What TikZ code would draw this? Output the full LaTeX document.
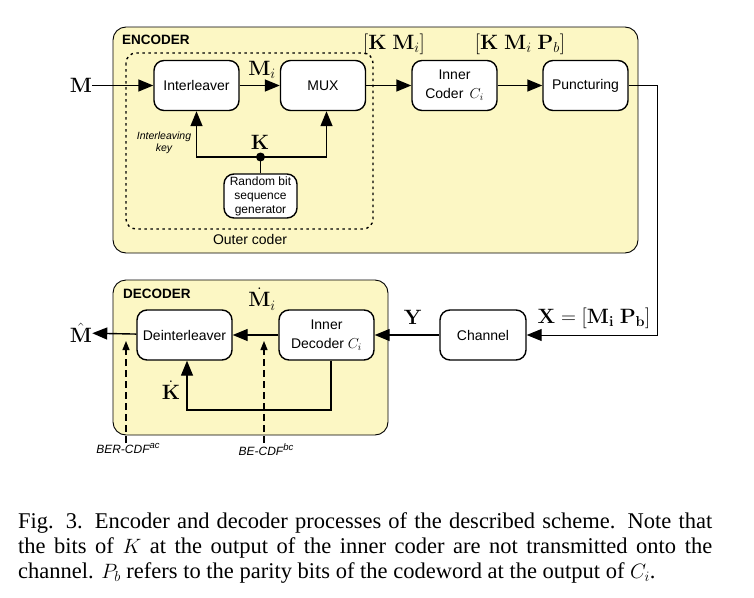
\documentclass[tikz,border=0pt]{standalone}
\usepackage{amssymb,amsmath}
\usepackage[no-math]{fontspec}
\setmainfont{Liberation Serif}
\setsansfont{Liberation Sans}
\usepackage{tikz}
\usetikzlibrary{arrows.meta}
\usetikzlibrary{calc}
\usetikzlibrary{positioning}
\definecolor{panel_yellow}{RGB}{252,247,196}
\newcommand{\upidx}[1]{\raisebox{5pt}{\fontsize{9.5}{10}\selectfont #1}}

\begin{document}
\begin{tikzpicture}[x=1pt,y=-1pt,
	block_node/.style={draw,line width=1.4pt,rounded corners=10pt,fill=white,minimum width=85pt,minimum height=50pt,inner sep=2pt,align=center,font=\sffamily\fontsize{14}{19}\selectfont},
	math_label/.style={font=\fontsize{21.5}{23}\selectfont,inner sep=0pt},
	title_label/.style={anchor=base west,font=\sffamily\bfseries\fontsize{13.5}{16}\selectfont,inner sep=0pt},
	note_label/.style={align=center,inner sep=0pt,font=\sffamily\itshape\fontsize{12}{14}\selectfont},
	sig/.style={line width=1.4pt,-{Triangle[length=15pt,width=12pt]}},
	probe/.style={line width=1.2pt,dash pattern=on 7pt off 4pt,-{Triangle[length=9pt,width=7pt]}}]
	
	\useasboundingbox (0,0) rectangle (754,597);
	
	% panels
	\draw[line width=0.9pt,rounded corners=13pt,fill=panel_yellow] (113,27) rectangle (638,253);
	\draw[line width=0.9pt,rounded corners=13pt,fill=panel_yellow] (113,280) rectangle (388,435);
	\node[title_label] (enc) at (122,44) {ENCODER};
	\node[title_label] (dec) at (123,298) {DECODER};
	
	% outer coder
	\draw[line width=1.4pt,dash pattern=on 2.5pt off 3.5pt,rounded corners=10pt] (126,53) rectangle (373,229);
	\node[font=\sffamily\fontsize{14}{16}\selectfont] (outer) at (250,239) {Outer coder};
	
	% encoder blocks
	\node[block_node] (intl) at (196.5,85.5) {Interleaver};
	\node[block_node] (mux) at (323,85.5) {MUX};
	\node[block_node] (inner) at (454.5,85.5) {Inner\\Coder \,$C_i$};
	\node[block_node] (punct) at (585.5,85.5) {Puncturing};
	\node[block_node,minimum width=73pt,minimum height=44pt,font=\sffamily\fontsize{12}{14}\selectfont] (rbsg) at (260.5,196) {Random bit\\sequence\\generator};
	
	\node[math_label] (msg) at (81,85.5) {$\mathbf{M}$};
	\node[math_label] (mi) at (262,70) {$\mathbf{M}_i$};
	\node[math_label] (kmi) at (394,44) {$[\mathbf{K}\;\mathbf{M}_i]$};
	\node[math_label] (kmipb) at (520,44) {$[\mathbf{K}\;\mathbf{M}_i\;\mathbf{P}_b]$};
	\node[math_label] (klbl) at (260,142) {$\mathbf{K}$};
	\node[note_label,font=\sffamily\itshape\fontsize{10.5}{12}\selectfont] (ikey) at (164,143) {Interleaving\\key};
	
	\path[sig]
	(msg) edge (intl)
	(intl) edge (mux)
	(mux) edge (inner)
	(inner) edge (punct);
	
	\coordinate (kjoin) at (260.5,157);
	\draw[line width=1.4pt] (rbsg) -- (kjoin);
	\draw[sig] (kjoin) -| (intl.south);
	\draw[sig] (kjoin) -| ([xshift=3.5pt]mux.south);
	\fill (kjoin) circle (4.5pt);
	
	% channel
	\node[block_node,minimum width=86pt] (chan) at (483,335) {Channel};
	\node[math_label] (xlbl) at (594,318) {$\mathbf{X}=[\mathbf{M_i}\;\mathbf{P_b}]$};
	\draw[line width=1pt,-{Triangle[length=15pt,width=12pt]}] (punct.east) -- ++(28.5,0) |- (chan.east);
	
	% decoder blocks
	\node[block_node,minimum width=95pt] (indec) at (326.5,335) {Inner\\Decoder $C_i$};
	\node[block_node,minimum width=95pt] (deint) at (184.5,335) {Deinterleaver};
	\node[math_label] (mhat) at (81,333) {$\hat{\mathbf{M}}$};
	\node[math_label] (ylbl) at (413,317) {$\mathbf{Y}$};
	\node[math_label] (mdot) at (262,299) {$\dot{\mathbf{M}}_i$};
	\node[math_label] (kdot) at (171,390) {$\dot{\mathbf{K}}$};
	
	\path[sig]
	(chan) edge (indec)
	(indec) edge (deint)
	(deint) edge (mhat);
	
	\coordinate (kback) at (187,410);
	\draw[sig] ([xshift=4.5pt]indec.south) |- (kback) -- ([xshift=2.5pt]deint.south);
	
	% measurement points
	\node[note_label,anchor=north] (ber) at (128,443) {BER-CDF\upidx{ac}};
	\node[note_label,anchor=north] (be) at (266,443) {BE-CDF\upidx{bc}};
	\coordinate (bertip) at (126,341);
	\coordinate (betip) at (264,341);
	\draw[probe] (ber.north -| bertip) -- (bertip);
	\draw[probe] (be.north -| betip) -- (betip);
	
	% caption
	\begin{scope}[every node/.style={anchor=base west,inner sep=0pt,font=\fontsize{22.5}{25}\selectfont}]
		\node (cap1) at (18,528) {\makebox[694pt][s]{Fig. 3. Encoder and decoder processes of the described scheme. Note that}};
		\node (cap2) at (18,553) {\makebox[694pt][s]{the bits of $K$ at the output of the inner coder are not transmitted onto the}};
		\node (cap3) at (18,578) {channel. $P_b$ refers to the parity bits of the codeword at the output of $C_i$.};
	\end{scope}
\end{tikzpicture}
\end{document}
